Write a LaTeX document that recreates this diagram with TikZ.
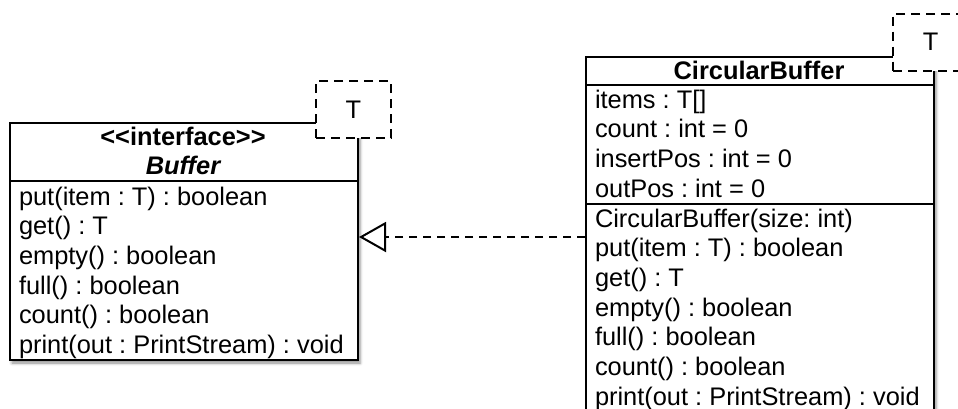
\documentclass[tikz,border=0pt]{standalone}
\usepackage{fontspec}
\setmainfont{Liberation Sans}
\frenchspacing
\usetikzlibrary{arrows.meta,shadows.blur}
\begin{document}
\frenchspacing
\begin{tikzpicture}[x=1pt,y=-1pt,line width=2pt,
  umlfont/.style={font=\fontsize{25.4}{29.7}\selectfont},
  txt/.style={umlfont,anchor=base west,inner sep=0pt},
  ctr/.style={anchor=base,inner sep=0pt,font=\fontsize{25.4}{29.7}\selectfont\bfseries},
  cls/.style={draw,fill=white,inner sep=0pt,anchor=north west,minimum width=348pt,
    blur shadow={shadow xshift=2pt,shadow yshift=-3pt,shadow blur radius=3pt,shadow opacity=45}},
  tparam/.style={draw,dash pattern=on 9pt off 6pt,fill=white,inner sep=0pt,
    minimum width=75pt,minimum height=57pt,umlfont},
  realize/.style={dash pattern=on 8pt off 6pt,
    -{Triangle[open,length=27pt,width=30pt,line width=2pt]}}
]
\useasboundingbox (0,0) rectangle (958,408);
\clip (0,0) rectangle (958,408);

% Buffer interface
\node[cls,minimum height=237pt] (buf) at (9,122) {};
\draw (buf.west |- 0,181) -- (buf.east |- 0,181);
\node[ctr] (bh1) at (183,145.5) {<\kern0pt<interface>\kern0pt>};
\node[ctr,font=\fontsize{25.4}{29.7}\selectfont\bfseries\itshape] (bh2) at (183,174.5) {Buffer};
\foreach \t [count=\i from 0] in {{put(item : T) : boolean},{get() : T},{empty() : boolean},{full() : boolean},{count() : boolean},{print(out : PrintStream) : void}}
  \node[txt] (bm\i) at (18,205+29.7*\i) {\t};

% CircularBuffer class
\node[cls,minimum height=356pt] (cb) at (585,56) {};
\draw (cb.west |- 0,85) -- (cb.east |- 0,85);
\draw (cb.west |- 0,204) -- (cb.east |- 0,204);
\node[ctr] (ch) at (759,79) {CircularBuffer};
\foreach \t [count=\i from 0] in {{items : T[]},{count : int = 0},{insertPos : int = 0},{outPos : int = 0}}
  \node[txt] (ca\i) at (594,108+29.7*\i) {\t};
\foreach \t [count=\i from 0] in {{CircularBuffer(size: int)},{put(item : T) : boolean},{get() : T},{empty() : boolean},{full() : boolean},{count() : boolean},{print(out : PrintStream) : void}}
  \node[txt] (cm\i) at (594,227+29.7*\i) {\t};

% template parameters
\node[tparam] (bt) at (353.5,109.5) {T};
\node[tparam] (ct) at (930.5,42) {T};

% realization
\draw[realize] (cb.west |- 0,237) -- (buf.east |- 0,237);
\end{tikzpicture}
\end{document}
